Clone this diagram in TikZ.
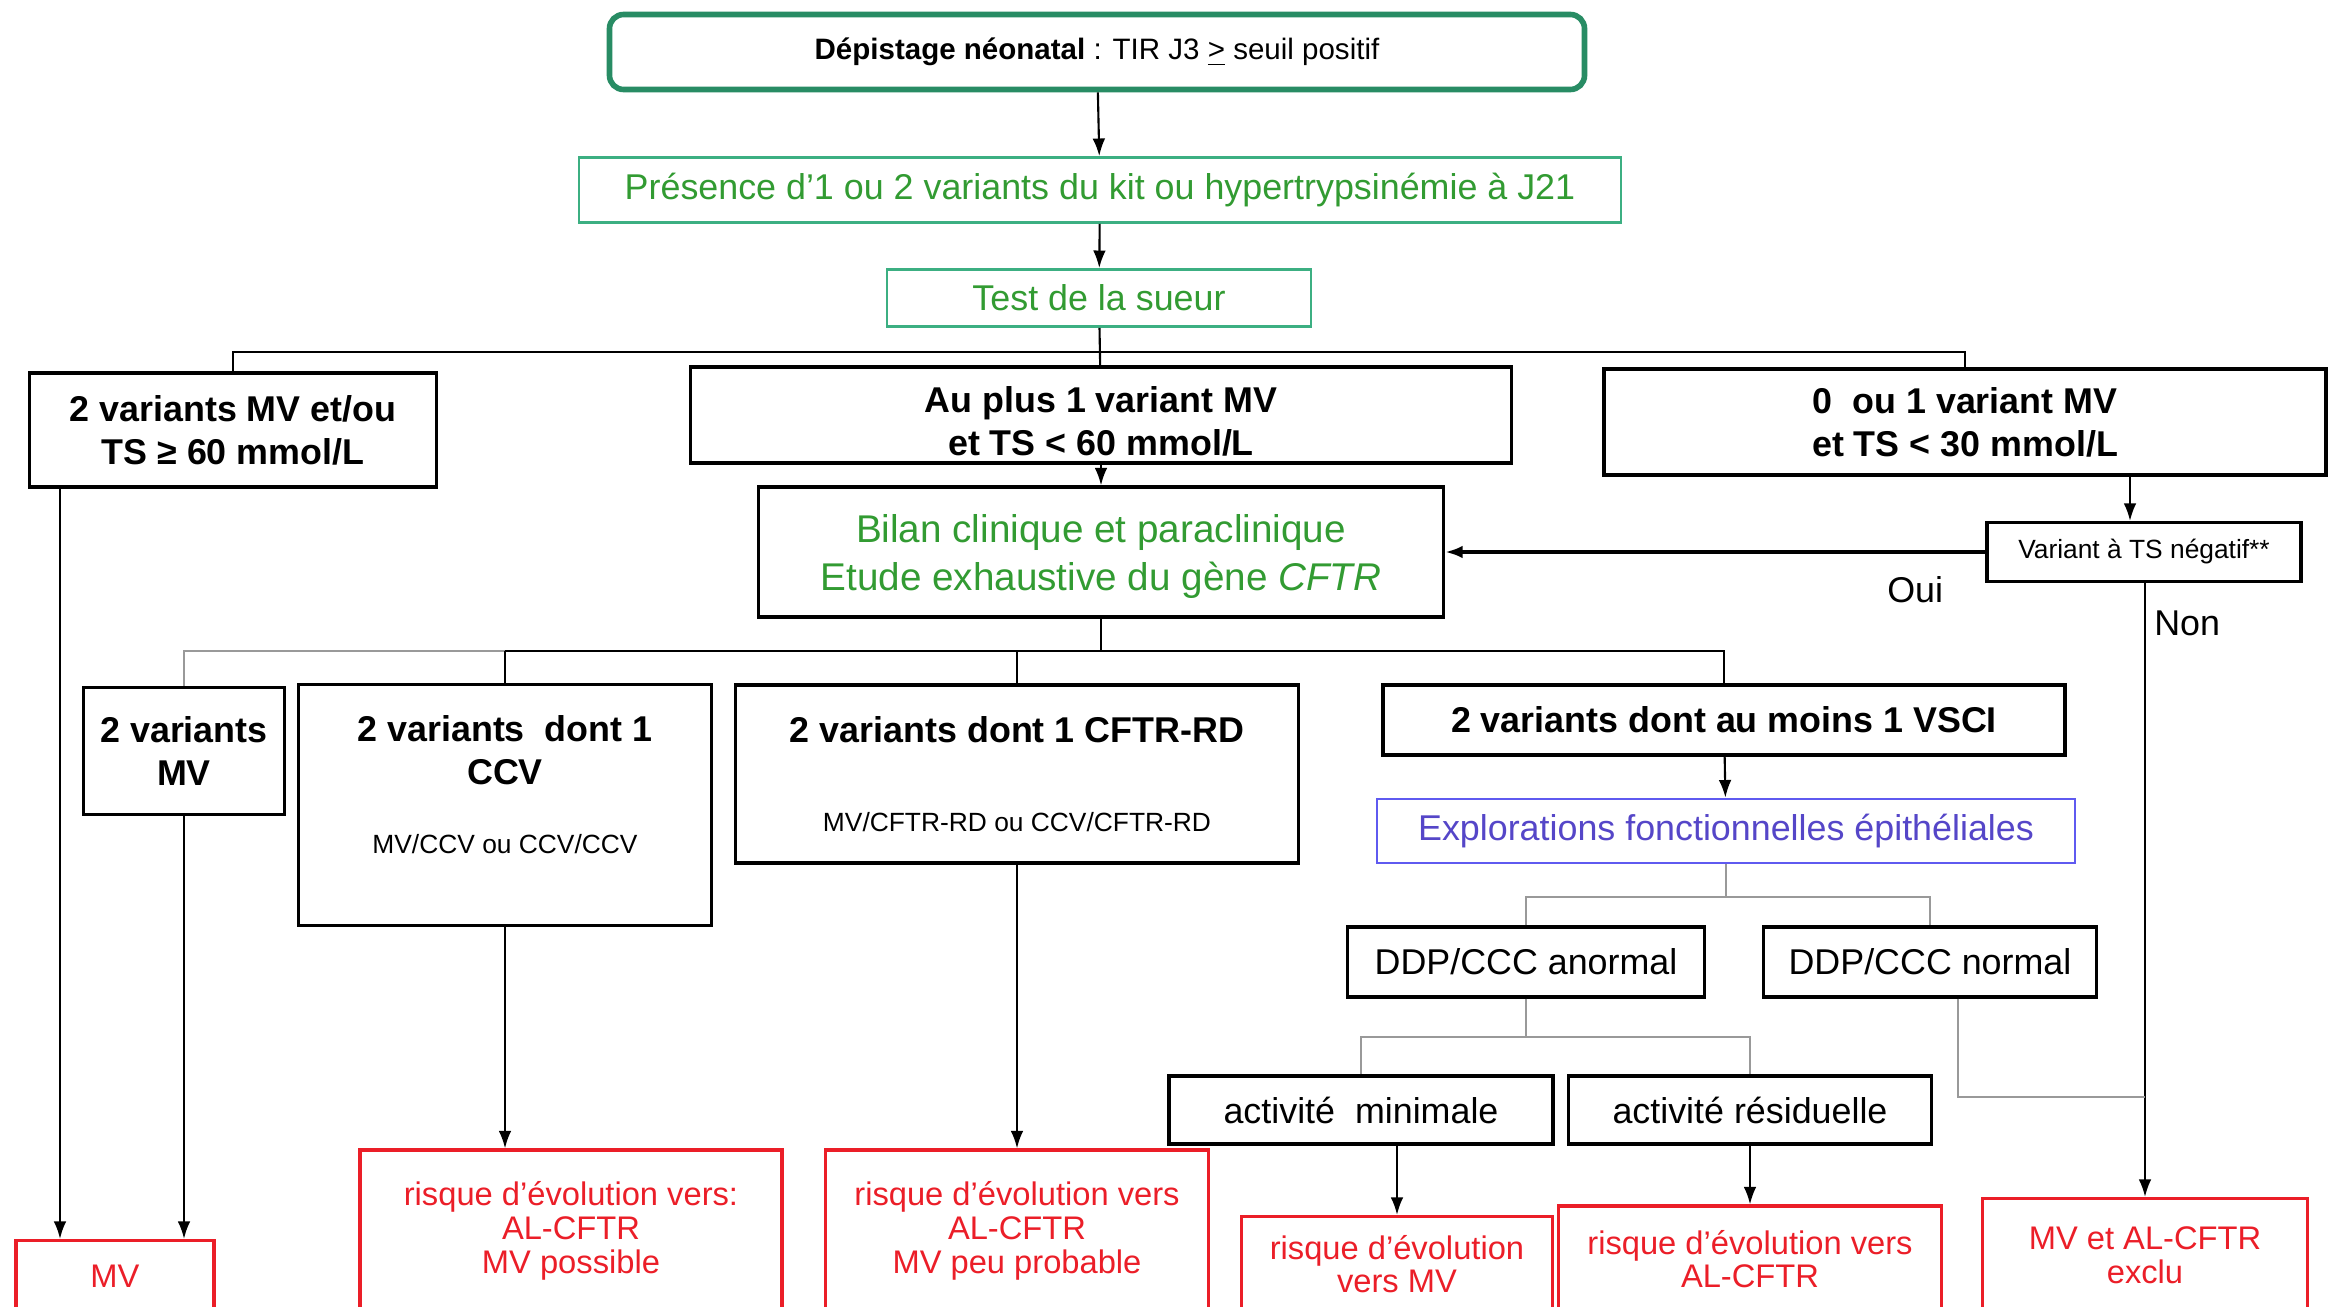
\documentclass[tikz,border=0pt]{standalone}
\usepackage{fontspec}
\setmainfont{Liberation Sans}
\usepackage{xcolor}
\usetikzlibrary{arrows.meta}

\definecolor{dkgreen}{RGB}{40,140,100}
\definecolor{lgreen}{RGB}{60,175,130}
\definecolor{txtgreen}{RGB}{50,155,50}
\definecolor{bluebox}{RGB}{95,90,240}
\definecolor{bluetxt}{RGB}{85,70,200}
\definecolor{redbox}{RGB}{235,30,40}

\begin{document}
\begin{tikzpicture}[x=0.1mm,y=-0.1mm]
\tikzstyle{topbox} = [rectangle, draw=dkgreen, line width=1.6pt, rounded corners=4pt,
align=center, inner sep=1pt, font=\fontsize{8.4}{10}\selectfont]
\tikzstyle{greenbox} = [rectangle, draw=lgreen, line width=0.8pt, text=txtgreen,
align=center, inner sep=1pt, font=\fontsize{10.2}{12.2}\selectfont]
\tikzstyle{block} = [rectangle, draw=black, line width=0.9pt, align=center,
inner sep=1pt, font=\fontsize{10.2}{12.2}\selectfont\bfseries]
\tikzstyle{block_reg} = [rectangle, draw=black, line width=0.9pt, align=center,
inner sep=1pt, font=\fontsize{10.2}{12.2}\selectfont]
\tikzstyle{bilanbox} = [block_reg, text=txtgreen, font=\fontsize{11}{13.5}\selectfont]
\tikzstyle{smallbox} = [block_reg, font=\fontsize{7.5}{9}\selectfont]
\tikzstyle{bluebox} = [rectangle, draw=bluebox, line width=0.8pt, text=bluetxt,
align=center, inner sep=1pt, font=\fontsize{10.2}{12.2}\selectfont]
\tikzstyle{redblock} = [rectangle, draw=redbox, line width=0.9pt, text=redbox,
align=center, inner sep=1pt, font=\fontsize{9.3}{9.6}\selectfont]
\tikzstyle{line} = [draw, line width=0.6pt, -{Latex[length=5pt,width=3.6pt]}]
\tikzstyle{link} = [draw, line width=0.6pt]
\tikzstyle{glink} = [draw, line width=0.6pt, gray!80]

\clip (0,0) rectangle (2341,1306);

% row 1
\node [topbox, minimum width=97.5mm, minimum height=7.5mm] (depist) at (1097,52)
{\textbf{Dépistage néonatal} : TIR J3 \underline{>} seuil positif};
% row 2
\node [greenbox, minimum width=104.2mm, minimum height=6.5mm] (presence) at (1100,190)
{Présence d’1 ou 2 variants du kit ou hypertrypsinémie à J21};
\node [greenbox, minimum width=42.4mm, minimum height=5.7mm] (sueur) at (1099,298)
{Test de la sueur};
% row 3
\node [block, minimum width=40.7mm, minimum height=11.4mm] (ts60) at (233,430)
{2 variants MV et/ou\\TS ≥ 60 mmol/L};
\node [block, minimum width=82.1mm, minimum height=9.6mm] (auplus) at (1101,415)
{\rule{0pt}{10.8pt}Au plus 1 variant MV\\et TS < 60 mmol/L};
\node [block, minimum width=72.2mm, minimum height=10.6mm] (ts30) at (1965,422)
{0\ \ ou 1 variant MV\\et TS < 30 mmol/L};
% row 4
\node [bilanbox, minimum width=68.5mm, minimum height=13mm] (bilan) at (1101,552)
{\rule{0pt}{10.5pt}Bilan clinique et paraclinique\\Etude exhaustive du gène \textit{CFTR}};
\node [smallbox, minimum width=31.4mm, minimum height=5.9mm] (tsneg) at (2144,552)
{Variant à TS négatif**};
% row 5
\node [block, minimum width=20.1mm, minimum height=12.7mm] (mv2) at (184,751)
{2 variants\\MV};
\node [block, minimum width=41.3mm, minimum height=24.1mm] (ccv) at (505,805)
{2 variants\ \ dont 1\\CCV\\[7.4pt]{\mdseries\fontsize{7.5}{9}\selectfont
\rule[-4.1mm]{0pt}{0pt}MV/CCV ou CCV/CCV}};
\node [block, minimum width=56.3mm, minimum height=17.8mm] (cftrrd) at (1017,774)
{2 variants dont 1 CFTR-RD\\[13pt]{\mdseries\fontsize{7.5}{9}\selectfont
MV/CFTR-RD ou CCV/CFTR-RD}};
\node [block, minimum width=68.2mm, minimum height=7mm] (vsci) at (1724,720)
{2 variants dont au moins 1 VSCI};
\node [bluebox, minimum width=69.8mm, minimum height=6.4mm] (explo) at (1726,831)
{Explorations fonctionnelles épithéliales};
% row 6
\node [block_reg, minimum width=35.7mm, minimum height=7mm] (anormal) at (1526,962)
{DDP/CCC anormal};
\node [block_reg, minimum width=33.3mm, minimum height=7mm] (normal) at (1930,962)
{DDP/CCC normal};
% row 7
\node [block_reg, minimum width=38.4mm, minimum height=6.8mm] (minimale) at (1361,1110)
{activité\ \ minimale};
\node [block_reg, minimum width=36.3mm, minimum height=6.8mm] (residuelle) at (1750,1110)
{activité résiduelle};
% row 8
\node [redblock, minimum width=19.8mm, minimum height=7.1mm] (rmv) at (115,1276)
{MV};
\node [redblock, minimum width=42.2mm, minimum height=16.2mm] (rpossible) at (571,1231)
{risque d’évolution vers:\\AL-CFTR\\MV possible};
\node [redblock, minimum width=38.3mm, minimum height=16.2mm] (rpeu) at (1017,1231)
{risque d’évolution vers\\AL-CFTR\\MV peu probable};
\node [redblock, minimum width=31.1mm, minimum height=9.5mm] (rversmv) at (1397,1264)
{risque d’évolution\\vers MV};
\node [redblock, minimum width=38.3mm, minimum height=10.6mm] (ralcftr) at (1750,1259)
{risque d’évolution vers\\AL-CFTR};
\node [redblock, minimum width=32.5mm, minimum height=11.3mm] (rexclu) at (2145,1255)
{MV et AL-CFTR\\exclu};

\coordinate (br1) at (1100,352);
\coordinate (br2) at (1101,651);
\coordinate (br3) at (1726,897);
\coordinate (br4) at (1526,1037);
\coordinate (join) at (2145,1097);

\path [line] (depist) -- (presence);
\path [line] (presence) -- (sueur);
\path [link] (sueur) -- (auplus);
\path [link] (ts60.north) |- (br1) -| (ts30.north);
\path [line] (auplus) -- (bilan);
\path [line] (ts30.south -| 2130,0) -- (tsneg.north -| 2130,0);
\path [line, line width=1.3pt] (tsneg) -- node[pos=0.13, below=3pt] {\fontsize{10.2}{12}\selectfont Oui} (bilan);
\path [line] (tsneg.south -| rexclu.north) -- node[pos=0.066, right=-1pt] {\fontsize{10.2}{12}\selectfont Non} (rexclu.north);
\path [link] (bilan) -- (br2);
\path [glink] (mv2.north) |- (ccv.north |- br2);
\path [link] (ccv.north |- br2) -| (vsci.north);
\path [link] (ccv.north) -- (ccv.north |- br2);
\path [link] (cftrrd.north) -- (cftrrd.north |- br2);
\path [line] (ts60.south -| 60,0) -- (rmv.north -| 60,0);
\path [line] (mv2.south) -- (rmv.north -| mv2.south);
\path [line] (ccv.south) -- (rpossible.north -| ccv.south);
\path [line] (cftrrd) -- (rpeu);
\path [line] (vsci) -- (explo);
\path [glink] (explo) -- (br3);
\path [glink] (anormal.north) |- (br3) -| (normal.north);
\path [glink] (anormal) -- (br4);
\path [glink] (minimale.north) |- (br4) -| (residuelle.north);
\path [line] (minimale.south -| rversmv.north) -- (rversmv.north);
\path [line] (residuelle) -- (ralcftr);
\path [glink] (normal.south -| 1958,0) |- (join);
\end{tikzpicture}
\end{document}
